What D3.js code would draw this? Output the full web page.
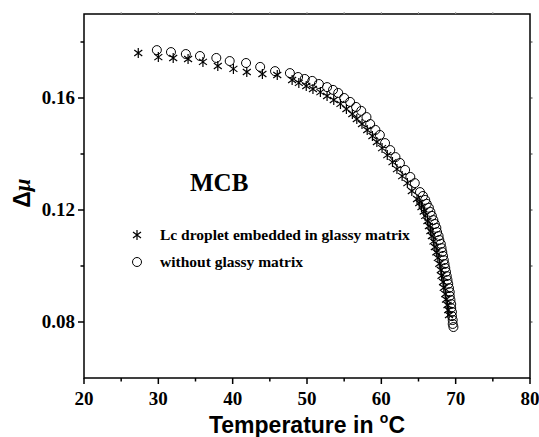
<!DOCTYPE html>
<html>
<head>
<meta charset="utf-8">
<script src="https://cdn.jsdelivr.net/npm/d3@7"></script>
<style>
  body { margin: 0; background: #fff; }
  .tick-label { font-family: 'Liberation Serif', serif; font-weight: bold; font-size: 19px; }
</style>
</head>
<body>
<svg width="539" height="437"></svg>
<script>
'use strict'

// Lc droplet embedded in glassy matrix (asterisks)
const tempLc = [27.3, 30.0, 32.0, 34.0, 36.0, 38.0, 40.1, 41.9, 44.0, 46.0,
  48.0, 48.9, 49.9, 50.8, 51.8, 52.7, 53.6, 54.5, 55.3, 56.1, 56.7, 57.4, 58.1, 58.8, 59.4,
  60.1, 60.8, 61.5, 62.1, 62.8, 63.5, 64.1, 64.8, 65.1, 65.4, 65.7, 65.9, 66.2, 66.4, 66.6,
  66.8, 67.0, 67.2, 67.4, 67.6, 67.8, 68.0, 68.1, 68.3, 68.4, 68.6, 68.7, 68.9, 69.0, 69.1]
const muLc = [0.1761, 0.1746, 0.1743, 0.1739, 0.1729, 0.1714, 0.1704, 0.1693, 0.1686, 0.1682,
  0.1664, 0.1654, 0.1643, 0.1632, 0.1621, 0.1607, 0.1593, 0.1579, 0.1561, 0.1543, 0.1525, 0.1507, 0.1486, 0.1464, 0.1443,
  0.1421, 0.1396, 0.1371, 0.1346, 0.1321, 0.1296, 0.1268, 0.1239, 0.1225, 0.1211, 0.1195, 0.1179, 0.1161, 0.1143, 0.1125,
  0.1107, 0.1088, 0.1068, 0.1049, 0.1029, 0.1008, 0.0986, 0.0965, 0.0943, 0.0922, 0.0900, 0.0880, 0.0861, 0.0843, 0.0825]

// without glassy matrix (open circles)
const tempFree = [29.8, 31.7, 33.7, 35.6, 37.8, 39.6, 41.8, 43.7, 45.7, 47.7,
  48.8, 49.7, 50.7, 51.6, 52.7, 53.5, 54.2, 55.0, 55.8, 56.6, 57.3, 58.0, 58.5, 59.2, 59.8,
  60.5, 61.2, 61.9, 62.5, 63.2, 63.9, 64.5, 65.2, 65.6, 65.9, 66.1, 66.4, 66.6, 66.8, 67.0,
  67.2, 67.4, 67.5, 67.7, 67.8, 68.0, 68.1, 68.2, 68.3, 68.4, 68.5, 68.6, 68.7, 68.8, 68.9,
  69.0, 69.1, 69.2, 69.2, 69.3, 69.4, 69.4, 69.5, 69.5, 69.6, 69.6, 69.7]
const muFree = [0.1771, 0.1764, 0.1757, 0.1750, 0.1743, 0.1732, 0.1725, 0.1711, 0.1696, 0.1689,
  0.1675, 0.1668, 0.1661, 0.1650, 0.1639, 0.1629, 0.1618, 0.1600, 0.1586, 0.1568, 0.1554, 0.1532, 0.1507, 0.1486, 0.1468,
  0.1439, 0.1414, 0.1389, 0.1368, 0.1343, 0.1318, 0.1296, 0.1264, 0.1250, 0.1236, 0.1222, 0.1208, 0.1193, 0.1179, 0.1164,
  0.1150, 0.1136, 0.1121, 0.1107, 0.1093, 0.1079, 0.1064, 0.1050, 0.1036, 0.1021, 0.1007, 0.0993, 0.0979, 0.0964, 0.0950,
  0.0936, 0.0921, 0.0907, 0.0893, 0.0879, 0.0864, 0.0850, 0.0836, 0.0821, 0.0807, 0.0793, 0.0782]

const xTicks = [20, 30, 40, 50, 60, 70, 80]
const yTicks = [0.08, 0.12, 0.16]
const legendLabels = ['Lc droplet embedded in glassy matrix', 'without glassy matrix']

const margin = { top: 14, right: 9, bottom: 59, left: 84 }
const width = 539 - margin.left - margin.right
const height = 437 - margin.top - margin.bottom

const x = d3.scaleLinear().domain([20, 80]).range([0, width])
const y = d3.scaleLinear().domain([0.06, 0.19]).range([height, 0])

const svg = d3.select('svg')
const g = svg.append('g').attr('transform', `translate(${margin.left},${margin.top})`)

// frame
g.append('rect')
  .attr('width', width).attr('height', height)
  .style('fill', 'none').style('stroke', '#000').style('stroke-width', 1.5)

// bottom axis: major + minor
const xMinor = d3.range(25, 80, 10)
g.selectAll('line.xmaj').data(xTicks).enter().append('line')
  .attr('x1', (d) => x(d)).attr('x2', (d) => x(d))
  .attr('y1', height).attr('y2', height + 6)
  .style('stroke', '#000').style('stroke-width', 1.5)
g.selectAll('line.xmin').data(xMinor).enter().append('line')
  .attr('x1', (d) => x(d)).attr('x2', (d) => x(d))
  .attr('y1', height).attr('y2', height + 3.5)
  .style('stroke', '#000').style('stroke-width', 1.5)
g.selectAll('text.xl').data(xTicks).enter().append('text')
  .classed('tick-label', true)
  .attr('x', (d) => x(d)).attr('y', height + 27)
  .attr('text-anchor', 'middle')
  .text((d) => d)

// top axis ticks (faint)
g.selectAll('line.xtop').data(d3.range(25, 80, 5)).enter().append('line')
  .attr('x1', (d) => x(d)).attr('x2', (d) => x(d))
  .attr('y1', 0).attr('y2', -2)
  .style('stroke', '#999').style('stroke-width', 1)

// left axis
const yMinor = [0.10, 0.14, 0.18]
g.selectAll('line.ymaj').data(yTicks).enter().append('line')
  .attr('x1', -6).attr('x2', 0)
  .attr('y1', (d) => y(d)).attr('y2', (d) => y(d))
  .style('stroke', '#000').style('stroke-width', 1.5)
g.selectAll('line.ymin').data(yMinor).enter().append('line')
  .attr('x1', -3.5).attr('x2', 0)
  .attr('y1', (d) => y(d)).attr('y2', (d) => y(d))
  .style('stroke', '#000').style('stroke-width', 1.5)
g.selectAll('text.yl').data(yTicks).enter().append('text')
  .classed('tick-label', true)
  .attr('x', -9).attr('y', (d) => y(d) + 6)
  .attr('text-anchor', 'end')
  .text((d) => d3.format('.2f')(d))

// right axis ticks
g.selectAll('line.yright').data(yTicks.concat(yMinor)).enter().append('line')
  .attr('x1', width).attr('x2', width + 2.5)
  .attr('y1', (d) => y(d)).attr('y2', (d) => y(d))
  .style('stroke', '#333').style('stroke-width', 1)

// symbols
const starPath = (r) => {
  const a = r * 0.8, b = r * 0.6
  return `M0,${-r}L0,${r}M${-a},${-b}L${a},${b}M${-a},${b}L${a},${-b}`
}

const lcData = tempLc.map((t, i) => [t, muLc[i]])
const freeData = tempFree.map((t, i) => [t, muFree[i]])

g.selectAll('path.lc').data(lcData).enter().append('path')
  .classed('lc', true)
  .attr('transform', (d) => `translate(${x(d[0])},${y(d[1])})`)
  .attr('d', starPath(5))
  .style('stroke', '#000').style('stroke-width', 1.2).style('fill', 'none')

g.selectAll('circle.free').data(freeData).enter().append('circle')
  .classed('free', true)
  .attr('cx', (d) => x(d[0])).attr('cy', (d) => y(d[1]))
  .attr('r', 4.5)
  .style('stroke', '#000').style('stroke-width', 1).style('fill', 'none')

// legend
const leg = g.append('g').attr('transform', `translate(${137 - margin.left},${235 - margin.top})`)
leg.append('path').attr('d', starPath(5))
  .style('stroke', '#000').style('stroke-width', 1.2).style('fill', 'none')
leg.append('circle').attr('cy', 27).attr('r', 4.5)
  .style('stroke', '#000').style('stroke-width', 1).style('fill', 'none')
leg.selectAll('text').data(legendLabels).enter().append('text')
  .attr('x', 23).attr('y', (d, i) => 5 + i * 27)
  .style('font-family', "'Liberation Serif', serif")
  .style('font-weight', 'bold').style('font-size', '15.5px')
  .text((d) => d)

// MCB
g.append('text')
  .attr('x', 190 - margin.left).attr('y', 191 - margin.top)
  .style('font-family', "'Liberation Serif', serif")
  .style('font-weight', 'bold').style('font-size', '25px')
  .text('MCB')

// axis titles
const xTitle = svg.append('text')
  .attr('x', margin.left + width / 2).attr('y', 433)
  .attr('text-anchor', 'middle')
  .style('font-family', "'Liberation Sans', Arial, sans-serif")
  .style('font-weight', 'bold').style('font-size', '23px')
xTitle.append('tspan').text('Temperature in ')
xTitle.append('tspan').attr('dy', -10).style('font-size', '14px').text('o')
xTitle.append('tspan').attr('dy', 10).text('C')

const yTitle = svg.append('text')
  .attr('transform', 'translate(30,193) rotate(-90)')
  .attr('text-anchor', 'middle')
  .style('font-weight', 'bold').style('font-size', '23px')
yTitle.append('tspan').style('font-family', "'Liberation Sans', Arial, sans-serif").text('Δ')
yTitle.append('tspan').style('font-family', "'Liberation Serif', serif")
  .style('font-style', 'italic').text('μ')
</script>
</body>
</html>
